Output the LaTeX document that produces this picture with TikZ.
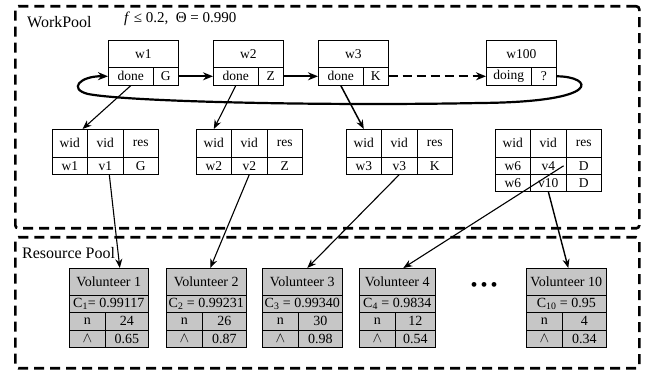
\documentclass[tikz,border=0pt]{standalone}
\usepackage{fontspec}
\setmainfont{Liberation Serif}
\newfontfamily\tms{Liberation Serif}
\usetikzlibrary{arrows.meta,calc}
\definecolor{volgray}{RGB}{198,198,198}
\begin{document}
\begin{tikzpicture}[x=1pt,y=-1pt,
  cell/.style={draw, line width=0.6pt, inner sep=0pt, anchor=north west, font=\tms\fontsize{13.5}{15}\selectfont},
  vcell/.style={cell, fill=volgray, font=\tms\fontsize{14}{16}\selectfont},
  pool/.style={draw, dash pattern=on 10pt off 6pt, line width=2.6pt, rounded corners=3pt, anchor=north west, inner sep=0pt},
  link/.style={line width=2.2pt, -{Stealth[length=10pt,width=8pt]}},
  ptr/.style={line width=1.1pt, -{Stealth[length=9pt,width=7pt]}},
  lbl/.style={font=\tms\fontsize{16}{18}\selectfont, anchor=west, inner sep=0pt}]
\useasboundingbox (0,0) rectangle (646,371);

% pools
\node[pool, minimum width=624, minimum height=222] (workpool) at (14,5) {};
\node[pool, minimum width=624, minimum height=131] (respool) at (14,236) {};
\node[lbl] (wplabel) at (27,22) {WorkPool};
\node[lbl, font=\tms\fontsize{15}{17}\selectfont] (formula) at (124,19) {\textit{f} ≤ 0.2,\enspace Θ = 0.990};
\node[lbl] (rplabel) at (22,253) {Resource Pool};

% work items
\foreach \n/\x/\s/\r in {w1/108/done/G, w2/213/done/Z, w3/318/done/K, w100/486/doing/?}{
  \node[cell, minimum width=70, minimum height=27] (\n) at (\x,40) {\n};
  \node[cell, minimum width=45, minimum height=18] (\n s) at (\x,67) {\s};
  \node[cell, minimum width=25, minimum height=18] (\n r) at ({\x+45},67) {\r};
}

% tables
\foreach \t/\x in {1/52, 2/196, 3/346, 4/495}{
  \node[cell, minimum width=35, minimum height=28] (t\t-h1) at (\x,129) {wid};
  \node[cell, minimum width=36, minimum height=28] (t\t-h2) at ({\x+35},129) {vid};
  \node[cell, minimum width=35, minimum height=28] (t\t-h3) at ({\x+71},129) {res};
}
\foreach \t/\x/\a/\b/\c in {1/52/w1/v1/G, 2/196/w2/v2/Z, 3/346/w3/v3/K, 4/495/w6/v4/D}{
  \node[cell, minimum width=35, minimum height=17] (t\t-a1) at (\x,157) {\a};
  \node[cell, minimum width=36, minimum height=17] (t\t-a2) at ({\x+35},157) {\b};
  \node[cell, minimum width=35, minimum height=17] (t\t-a3) at ({\x+71},157) {\c};
}
\node[cell, minimum width=35, minimum height=17] (t4-b1) at (495,174) {w6};
\node[cell, minimum width=36, minimum height=17] (t4-b2) at (530,174) {v10};
\node[cell, minimum width=35, minimum height=17] (t4-b3) at (566,174) {D};

% volunteers
\foreach \k/\x/\rw/\cc/\nn/\ll in {
  1/69/43/{C\textsubscript{1}= 0.99117}/24/0.65,
  2/166/44/{C\textsubscript{2} = 0.99231}/26/0.87,
  3/262/44/{C\textsubscript{3} = 0.99340}/30/0.98,
  4/359/40/{C\textsubscript{4} = 0.9834}/12/0.54,
  10/526/44/{C\textsubscript{10} = 0.95}/4/0.34}{
  \pgfmathsetmacro\tw{36+\rw}
  \node[vcell, minimum width=\tw, minimum height=27] (v\k) at (\x,268) {Volunteer \k};
  \node[vcell, minimum width=\tw, minimum height=17] (v\k-c) at (\x,295) {\cc};
  \node[vcell, minimum width=36, minimum height=18] (v\k-n) at (\x,312) {n};
  \node[vcell, minimum width=\rw, minimum height=18] (v\k-nv) at ({\x+36},312) {\nn};
  \node[vcell, minimum width=36, minimum height=17] (v\k-l) at (\x,330) {$\wedge$};
  \node[vcell, minimum width=\rw, minimum height=17] (v\k-lv) at ({\x+36},330) {\ll};
}
\node[font=\tms\fontsize{20}{22}\selectfont] (dots) at (484,287) {\textbullet\hspace{3pt}\textbullet\hspace{3pt}\textbullet};

% chain links
\draw[link] (w1r.east) -- (w2s.west);
\draw[link] (w2r.east) -- (w3s.west);
\draw[link, dash pattern=on 9pt off 5pt] (w3r.east) -- (w100s.west);
\draw[link] (w100r.east) .. controls +(36,0) and (606,102) .. (480,103)
  .. controls (330,106) and (130,102) .. (88,94)
  .. controls (68,89) and (80,76) .. (w1s.west);

% pointers to tables
\draw[ptr] (w1s.south) -- ($(t1-h1.north east)+(-5,0)$);
\draw[ptr] (w2s.south) -- (t2-h1.north);
\draw[ptr, line width=1.5pt] (w3s.south) -- (t3-h1.north);

% pointers to volunteers
\draw[ptr] ($(t1-a2.south)+(4,0)$) -- ($(v1.north)+(11,0)$);
\draw[ptr] (t2-a2.south) -- ($(v2.north)+(4,0)$);
\draw[ptr] (t3-a2.south) -- ($(v3.north)+(5,0)$);
\draw[ptr] ($(t4-a2.east)+(-3,0)$) -- ($(v4.north)+(6,0)$);
\draw[ptr, line width=1.4pt] (t4-b2.south) -- ($(v10.north)+(2,0)$);
\end{tikzpicture}
\end{document}
